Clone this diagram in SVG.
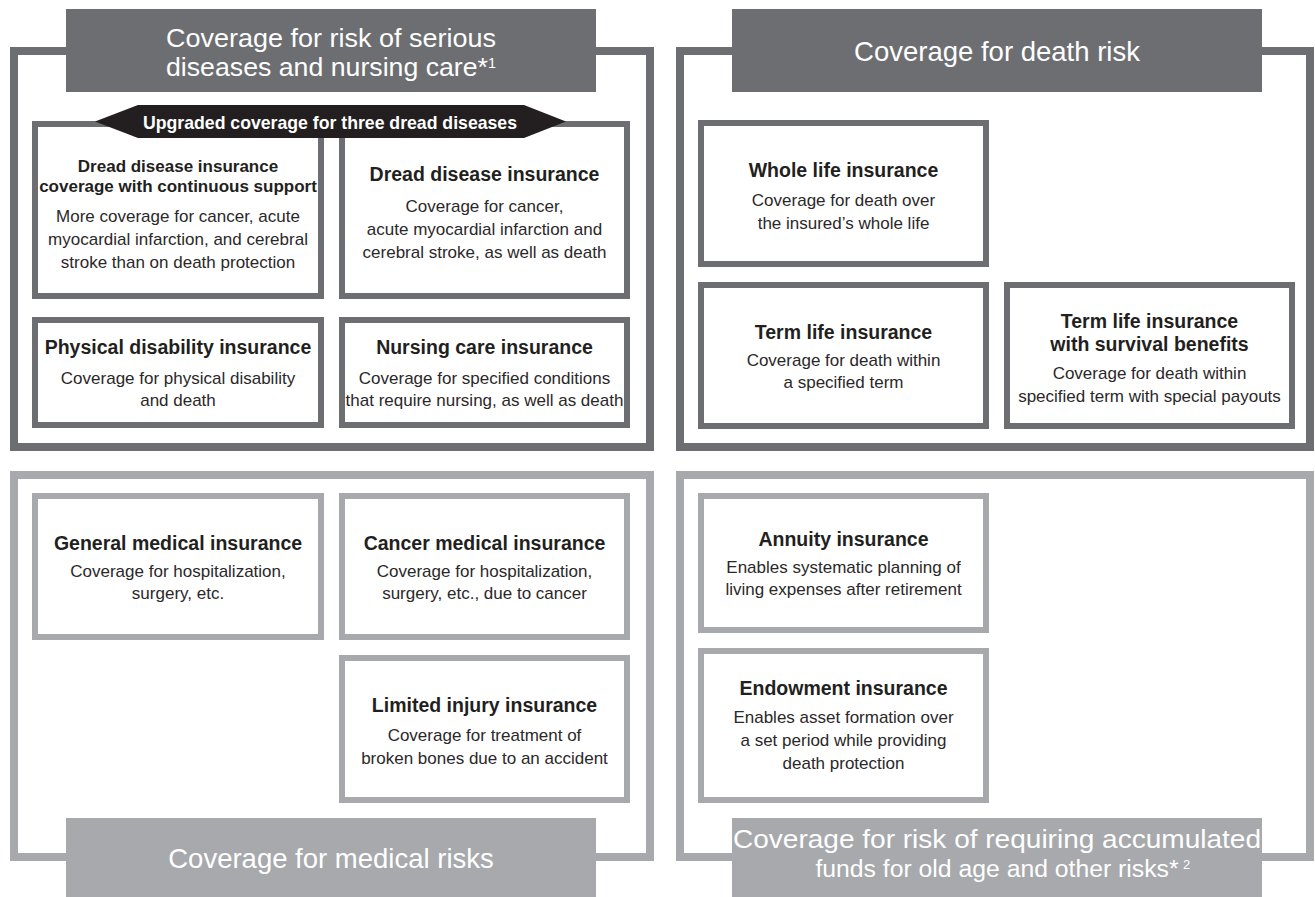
<svg xmlns="http://www.w3.org/2000/svg" width="1315" height="897" viewBox="0 0 1315 897">
  <style>
    .frame-dark { fill: #ffffff; stroke: #6d6e71; stroke-width: 8; }
    .frame-light { fill: #ffffff; stroke: #a7a9ac; stroke-width: 8; }
    .box-dark { fill: #ffffff; stroke: #6d6e71; stroke-width: 6; }
    .box-light { fill: #ffffff; stroke: #a7a9ac; stroke-width: 6; }
    .cap-dark { fill: #6d6e71; }
    .cap-light { fill: #a7a9ac; }
    .head { font-family: "Liberation Sans", Arial, sans-serif; font-size: 27.5px; fill: #ffffff; text-anchor: middle; }
    .head-2 { font-size: 26px; }
    .head-3 { font-size: 24.75px; }
    .title { font-family: "Liberation Sans", Arial, sans-serif; font-weight: bold; font-size: 19.5px; fill: #231f20; text-anchor: middle; }
    .title-s { font-size: 17px; }
    .desc { font-family: "Liberation Sans", Arial, sans-serif; font-size: 17px; fill: #2b2829; text-anchor: middle; }
    .banner { fill: #231f20; }
    .banner-text { font-family: "Liberation Sans", Arial, sans-serif; font-weight: bold; font-size: 19px; fill: #ffffff; text-anchor: middle; }
    .sup { font-size: 14px; }
    .note { font-family: "Liberation Sans", Arial, sans-serif; font-size: 13px; fill: #ffffff; text-anchor: start; }
  </style>

  <!-- Panel: serious diseases and nursing care -->
  <g id="panel-serious-diseases">
    <rect class="frame-dark" x="14" y="51" width="636" height="396"/>
    <rect class="cap-dark" x="66" y="9" width="530" height="83"/>
    <text class="head head-2" x="331" y="47" textLength="330" lengthAdjust="spacingAndGlyphs">Coverage for risk of serious</text>
    <text class="head head-2" x="331" y="76" textLength="330" lengthAdjust="spacingAndGlyphs">diseases and nursing care*<tspan class="sup" dy="-8">1</tspan></text>
  </g>

  <g id="node-dread-continuous">
    <rect class="box-dark" x="35" y="124" width="286" height="172"/>
    <text class="title title-s" x="178" y="172">Dread disease insurance</text>
    <text class="title title-s" x="178" y="192">coverage with continuous support</text>
    <text class="desc" x="178" y="222">More coverage for cancer, acute</text>
    <text class="desc" x="178" y="245">myocardial infarction, and cerebral</text>
    <text class="desc" x="178" y="268">stroke than on death protection</text>
  </g>

  <g id="node-dread-disease">
    <rect class="box-dark" x="342" y="124" width="285" height="172"/>
    <text class="title" x="484.5" y="181">Dread disease insurance</text>
    <text class="desc" x="484.5" y="212">Coverage for cancer,</text>
    <text class="desc" x="484.5" y="235">acute myocardial infarction and</text>
    <text class="desc" x="484.5" y="258">cerebral stroke, as well as death</text>
  </g>

  <g id="node-upgraded-banner">
    <polygon class="banner" points="95,121.5 138,105 524,105 566,121.5 524,138 138,138"/>
    <text class="banner-text" x="330" y="129" textLength="374" lengthAdjust="spacingAndGlyphs">Upgraded coverage for three dread diseases</text>
  </g>

  <g id="node-physical-disability">
    <rect class="box-dark" x="35" y="320" width="286" height="105"/>
    <text class="title" x="178" y="354">Physical disability insurance</text>
    <text class="desc" x="178" y="384">Coverage for physical disability</text>
    <text class="desc" x="178" y="406">and death</text>
  </g>

  <g id="node-nursing-care">
    <rect class="box-dark" x="342" y="320" width="285" height="105"/>
    <text class="title" x="484.5" y="354">Nursing care insurance</text>
    <text class="desc" x="484.5" y="384">Coverage for specified conditions</text>
    <text class="desc" x="484.5" y="406">that require nursing, as well as death</text>
  </g>

  <!-- Panel: death risk -->
  <g id="panel-death">
    <rect class="frame-dark" x="680" y="51" width="630" height="396"/>
    <rect class="cap-dark" x="732" y="9" width="530" height="83"/>
    <text class="head" x="997" y="60.5">Coverage for death risk</text>
  </g>

  <g id="node-whole-life">
    <rect class="box-dark" x="701" y="123" width="285" height="141"/>
    <text class="title" x="843.5" y="177">Whole life insurance</text>
    <text class="desc" x="843.5" y="206">Coverage for death over</text>
    <text class="desc" x="843.5" y="229">the insured’s whole life</text>
  </g>

  <g id="node-term-life">
    <rect class="box-dark" x="701" y="285" width="285" height="141"/>
    <text class="title" x="843.5" y="339">Term life insurance</text>
    <text class="desc" x="843.5" y="366">Coverage for death within</text>
    <text class="desc" x="843.5" y="388">a specified term</text>
  </g>

  <g id="node-term-survival">
    <rect class="box-dark" x="1007" y="285" width="285" height="141"/>
    <text class="title" x="1149.5" y="328">Term life insurance</text>
    <text class="title" x="1149.5" y="351">with survival benefits</text>
    <text class="desc" x="1149.5" y="379">Coverage for death within</text>
    <text class="desc" x="1149.5" y="402">specified term with special payouts</text>
  </g>

  <!-- Panel: medical risks -->
  <g id="panel-medical">
    <rect class="frame-light" x="14" y="475" width="636" height="382"/>
    <rect class="cap-light" x="66" y="818" width="530" height="79"/>
    <text class="head" x="331" y="868">Coverage for medical risks</text>
  </g>

  <g id="node-general-medical">
    <rect class="box-light" x="35" y="496" width="286" height="141"/>
    <text class="title" x="178" y="550">General medical insurance</text>
    <text class="desc" x="178" y="577">Coverage for hospitalization,</text>
    <text class="desc" x="178" y="599">surgery, etc.</text>
  </g>

  <g id="node-cancer-medical">
    <rect class="box-light" x="342" y="496" width="285" height="141"/>
    <text class="title" x="484.5" y="550">Cancer medical insurance</text>
    <text class="desc" x="484.5" y="577">Coverage for hospitalization,</text>
    <text class="desc" x="484.5" y="599">surgery, etc., due to cancer</text>
  </g>

  <g id="node-limited-injury">
    <rect class="box-light" x="342" y="658" width="285" height="142"/>
    <text class="title" x="484.5" y="712">Limited injury insurance</text>
    <text class="desc" x="484.5" y="741">Coverage for treatment of</text>
    <text class="desc" x="484.5" y="764">broken bones due to an accident</text>
  </g>

  <!-- Panel: accumulated funds for old age -->
  <g id="panel-old-age">
    <rect class="frame-light" x="680" y="475" width="630" height="382"/>
    <rect class="cap-light" x="732" y="818" width="530" height="79"/>
    <text class="head head-2" x="997" y="848" textLength="528" lengthAdjust="spacingAndGlyphs">Coverage for risk of requiring accumulated</text>
    <text class="head head-3" x="997" y="877">funds for old age and other risks*</text>
    <text class="note" x="1183" y="869">2</text>
  </g>

  <g id="node-annuity">
    <rect class="box-light" x="701" y="496" width="285" height="134"/>
    <text class="title" x="843.5" y="546">Annuity insurance</text>
    <text class="desc" x="843.5" y="573">Enables systematic planning of</text>
    <text class="desc" x="843.5" y="595">living expenses after retirement</text>
  </g>

  <g id="node-endowment">
    <rect class="box-light" x="701" y="651" width="285" height="149"/>
    <text class="title" x="843.5" y="695">Endowment insurance</text>
    <text class="desc" x="843.5" y="723">Enables asset formation over</text>
    <text class="desc" x="843.5" y="746">a set period while providing</text>
    <text class="desc" x="843.5" y="769">death protection</text>
  </g>

  <g id="connectors"/>
</svg>
